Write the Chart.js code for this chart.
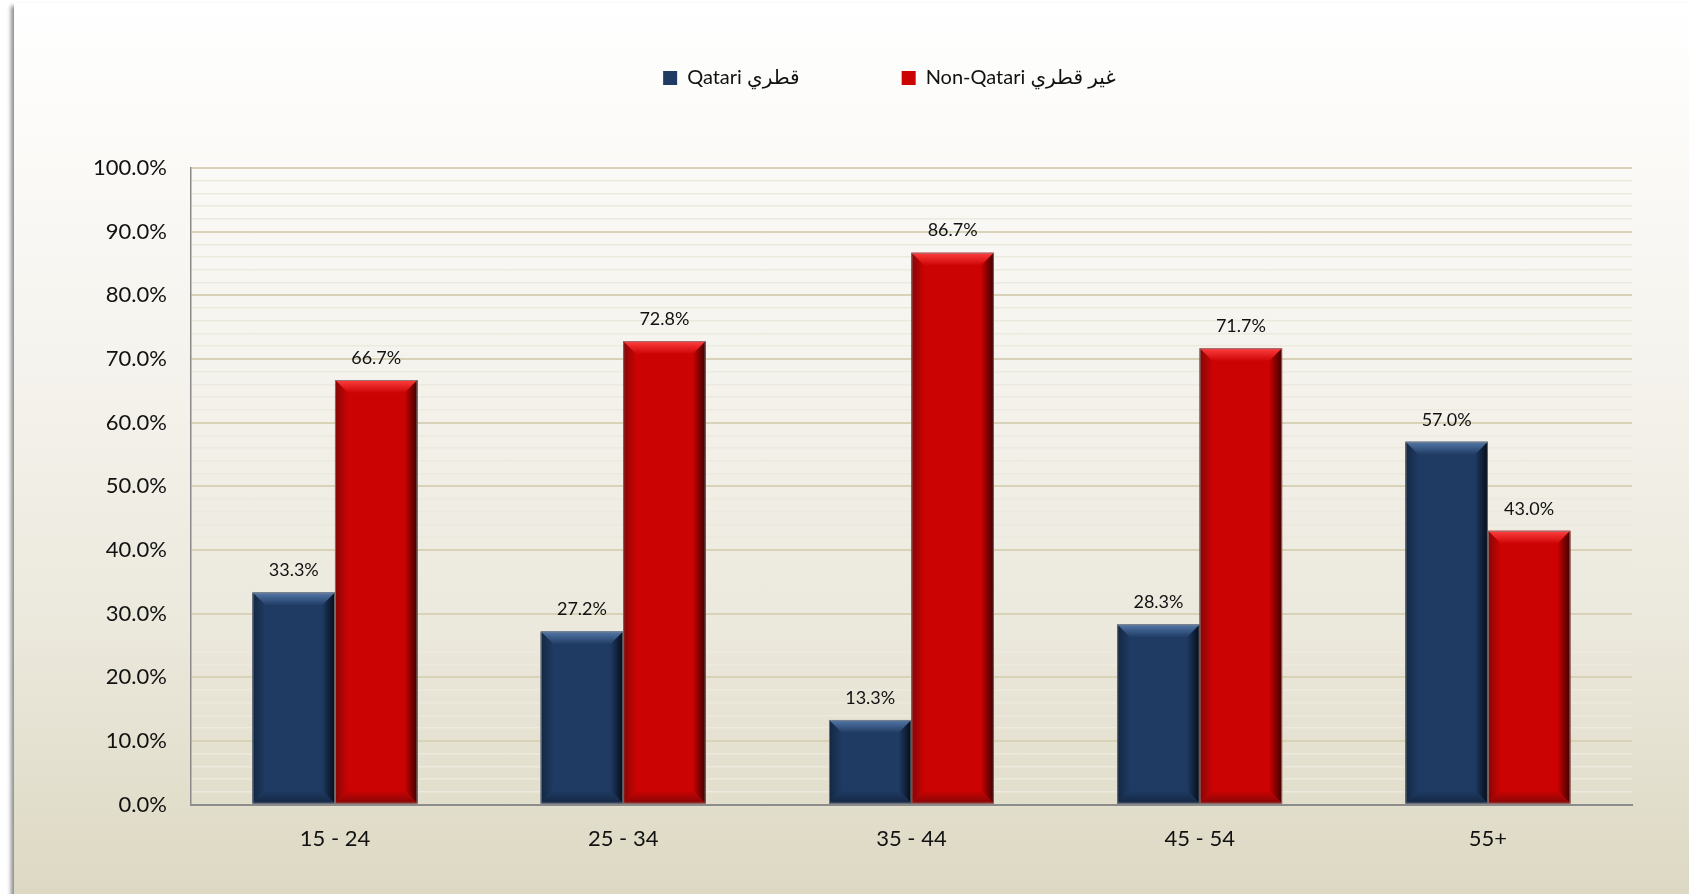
<!DOCTYPE html>
<html>
<head>
<meta charset="utf-8">
<script src="https://cdn.jsdelivr.net/npm/chart.js@4"></script>
<style>
  html, body { margin: 0; padding: 0; background: #ffffff; overflow: hidden; }
  #frame {
    position: absolute; left: 14px; top: 3px; width: 1690px; height: 900px;
    background: linear-gradient(to bottom, #ffffff 0%, #f5f3ed 40%, #ebe8dc 70%, #dcd8c2 100%);
    box-shadow: -3px 3px 4px rgba(0,0,0,0.45);
  }
  #chart { position: absolute; left: 0; top: 0; }
</style>
</head>
<body>
<div id="frame"></div>
<canvas id="chart" width="1689" height="894"></canvas>
<script>
// podaci
const ageGroups = ['15 - 24', '25 - 34', '35 - 44', '45 - 54', '55+'];
const qatari = [33.3, 27.2, 13.3, 28.3, 57.0];
const nonQatari = [66.7, 72.8, 86.7, 71.7, 43.0];
const seriesNames = ['Qatari قطري', 'Non-Qatari غير قطري'];

const font = 'Lato, "DejaVu Sans", sans-serif';
// boje: osnovna, svijetli rub, tamni rub
const shades = [
    { base: '#1f3b63', light: '#5478a8', dark: '#050b16', bottom: '#142742' },
    { base: '#cc0303', light: '#ff4040', dark: '#3a0000', bottom: '#850606' }
];

// bevel efekt na stupcima
const bevel = {
    id: 'bevel',
    afterDatasetsDraw(chart) {
        const ctx = chart.ctx;
        chart.data.datasets.forEach((ds, i) => {
            const c = shades[i];
            chart.getDatasetMeta(i).data.forEach(bar => {
                const p = bar.getProps(['x', 'y', 'base', 'width'], true);
                const l = p.x - p.width / 2, r = p.x + p.width / 2, t = p.y, b = p.base;
                const s = Math.min(13, (b - t) / 2, p.width / 2);
                ctx.save();
                // gore
                let g = ctx.createLinearGradient(0, t, 0, t + s);
                g.addColorStop(0, c.light); g.addColorStop(1, c.base);
                ctx.fillStyle = g;
                ctx.beginPath(); ctx.moveTo(l, t); ctx.lineTo(r, t); ctx.lineTo(r - s, t + s); ctx.lineTo(l + s, t + s); ctx.fill();
                // desno
                g = ctx.createLinearGradient(r - s, 0, r, 0);
                g.addColorStop(0, c.base); g.addColorStop(1, c.dark);
                ctx.fillStyle = g;
                ctx.beginPath(); ctx.moveTo(r, t); ctx.lineTo(r, b); ctx.lineTo(r - s, b - s); ctx.lineTo(r - s, t + s); ctx.fill();
                // dolje
                g = ctx.createLinearGradient(0, b - s, 0, b);
                g.addColorStop(0, c.base); g.addColorStop(1, c.bottom);
                ctx.fillStyle = g;
                ctx.beginPath(); ctx.moveTo(l, b); ctx.lineTo(r, b); ctx.lineTo(r - s, b - s); ctx.lineTo(l + s, b - s); ctx.fill();
                // lijevo
                g = ctx.createLinearGradient(l, 0, l + s, 0);
                g.addColorStop(0, c.bottom); g.addColorStop(1, c.base);
                ctx.fillStyle = g;
                ctx.beginPath(); ctx.moveTo(l, t); ctx.lineTo(l + s, t + s); ctx.lineTo(l + s, b - s); ctx.lineTo(l, b); ctx.fill();
                ctx.strokeStyle = 'rgba(130,130,130,0.8)';
                ctx.lineWidth = 1;
                ctx.strokeRect(l + 0.5, t + 0.5, p.width - 1, b - t - 1);
                ctx.restore();
            });
        });
    }
};

// vrijednosti iznad stupaca
const valueLabels = {
    id: 'valueLabels',
    afterDatasetsDraw(chart) {
        const ctx = chart.ctx;
        ctx.save();
        ctx.font = '18px ' + font;
        ctx.fillStyle = '#111';
        ctx.textAlign = 'center';
        ctx.textBaseline = 'middle';
        chart.data.datasets.forEach((ds, i) => {
            chart.getDatasetMeta(i).data.forEach((bar, j) => {
                ctx.fillText(ds.data[j].toFixed(1) + '%', bar.x, bar.y - 22);
            });
        });
        ctx.restore();
    }
};

// legenda malo ulijevo od sredine kao u originalu
const legendShift = {
    id: 'legendShift',
    afterLayout(chart) {
        chart.legend.left -= 22;
        chart.legend.right -= 22;
    }
};

new Chart(document.getElementById('chart'), {
    type: 'bar',
    data: {
        labels: ageGroups,
        datasets: [
            { label: seriesNames[0], data: qatari, backgroundColor: shades[0].base, borderWidth: 0 },
            { label: seriesNames[1], data: nonQatari, backgroundColor: shades[1].base, borderWidth: 0 }
        ]
    },
    options: {
        responsive: false,
        animation: false,
        categoryPercentage: 0.572,
        barPercentage: 1,
        layout: { padding: { left: 69, right: 57, top: -34, bottom: 21 } },
        plugins: {
            legend: {
                position: 'top',
                fullSize: false,
                labels: {
                    padding: 102,
                    boxWidth: 14,
                    boxHeight: 14,
                    color: '#111',
                    font: { family: font, size: 20 }
                }
            },
            title: {
                display: true,
                text: '',
                weight: 500,
                font: { size: 10 },
                padding: { top: 0, bottom: 58 }
            },
            tooltip: { enabled: false }
        },
        scales: {
            x: {
                grid: { display: false, drawTicks: false },
                border: { color: '#8c8c8c', width: 2 },
                ticks: { color: '#111', padding: 21, font: { family: font, size: 22 } }
            },
            y: {
                min: 0,
                max: 100,
                grid: {
                    drawTicks: false,
                    color: c => c.tick.value % 10 === 0 ? '#d8d2b9' : '#ece9de',
                    lineWidth: c => c.tick.value % 10 === 0 ? 2 : 1.5
                },
                border: { color: '#8a8a8a', width: 1.5 },
                ticks: {
                    stepSize: 2,
                    autoSkip: false,
                    padding: 24,
                    color: '#111',
                    font: { family: font, size: 22 },
                    callback: v => v % 10 === 0 ? v.toFixed(1) + '%' : ''
                }
            }
        }
    },
    plugins: [bevel, valueLabels, legendShift]
});
</script>
</body>
</html>
